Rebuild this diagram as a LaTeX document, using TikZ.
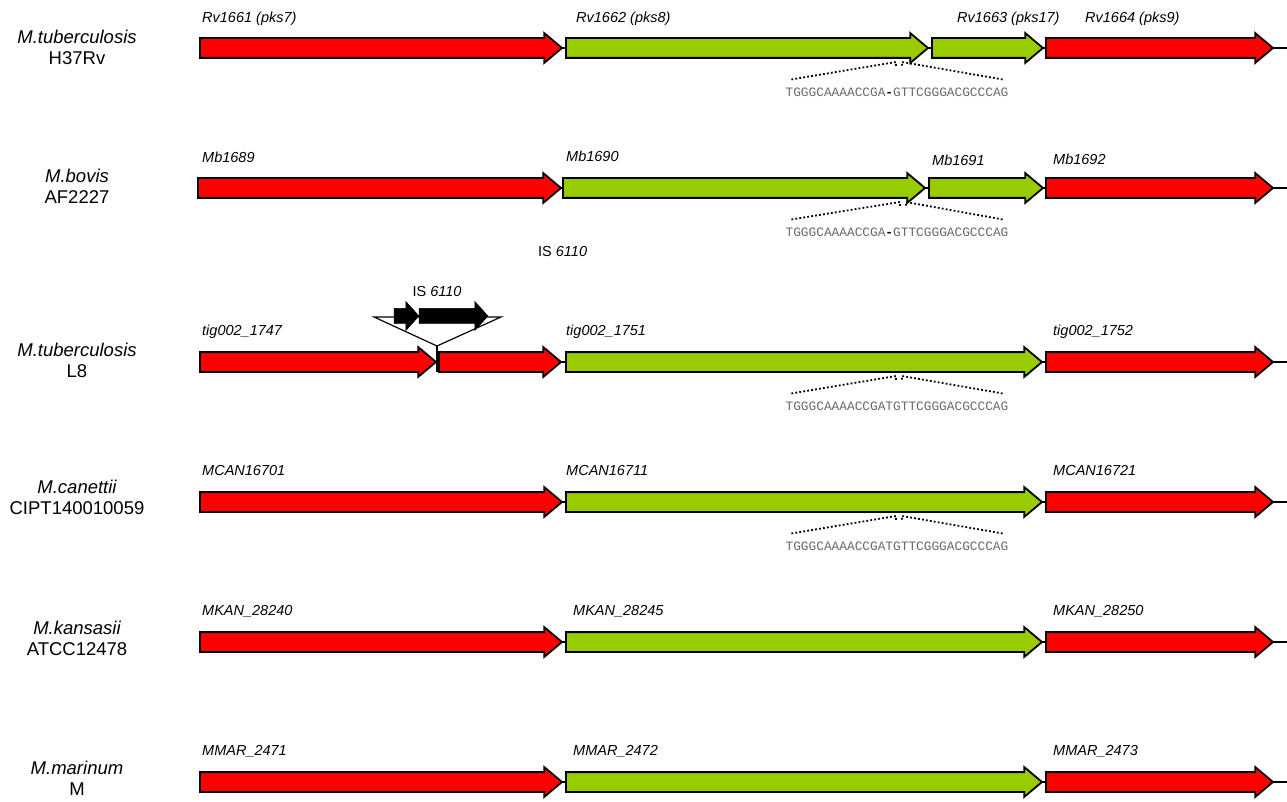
\documentclass[tikz,border=0pt]{standalone}
\usepackage{fontspec}
\setmainfont{Liberation Sans}
\newfontfamily\seqfont{Liberation Mono}
\usetikzlibrary{shapes.arrows,positioning}
\definecolor{genered}{RGB}{255,0,0}
\definecolor{genegreen}{RGB}{153,204,0}
\definecolor{seqgray}{RGB}{105,105,105}

\tikzset{
  gene/.style={single arrow, draw=black, line width=1.8pt, fill=#1, inner xsep=0pt, inner ysep=9pt,
    outer sep=0pt, minimum width=0pt, single arrow head extend=5pt, single arrow tip angle=80, anchor=tail},
  isgene/.style={single arrow, draw=black, fill=black, inner xsep=0pt, inner ysep=7.5pt,
    outer sep=0pt, minimum width=0pt, single arrow head extend=7pt, single arrow tip angle=96, anchor=tail},
  genelbl/.style={font=\fontsize{14.5}{16}\selectfont\itshape, anchor=base west, inner sep=0pt},
  species/.style={font=\fontsize{18.5}{21}\selectfont, align=center},
  seq/.style={font=\seqfont\fontsize{12.8}{14}\selectfont, text=seqgray, inner sep=0pt},
  seqdots/.style={line width=1.8pt, dash pattern=on 1.8pt off 2.2pt},
  backbone/.style={line width=1.8pt}
}

\begin{document}
\begin{tikzpicture}[x=1pt,y=-1pt]
\useasboundingbox (0,0) rectangle (1287,802);

% Species names
\node[species] (spA) at (77,47) {\itshape M.tuberculosis\\H37Rv};
\node[species] (spB) at (77,186) {\itshape M.bovis\\AF2227};
\node[species] (spC) at (77,360) {\itshape M.tuberculosis\\L8};
\node[species] (spD) at (77,497) {\itshape M.canettii\\CIPT140010059};
\node[species] (spE) at (77,638) {\itshape M.kansasii\\ATCC12478};
\node[species] (spF) at (77,778) {\itshape M.marinum\\M};

% Row A: H37Rv
\coordinate (startA) at (200,48);
\coordinate (endA) at (1287,48);
\draw[backbone] (startA) -- (endA);
\node[gene=genered, minimum height=362pt] (geneA1) at (startA) {};
\node[gene=genegreen, minimum height=362pt] (geneA2) at (566,48) {};
\node[gene=genegreen, minimum height=111pt] (geneA3) at (932,48) {};
\node[gene=genered, minimum height=227pt] (geneA4) at (1046,48) {};
\node[genelbl] (lblA1) at (202,23) {Rv1661 (pks7)};
\node[genelbl] (lblA2) at (576,23) {Rv1662 (pks8)};
\node[genelbl] (lblA3) at (957,23) {Rv1663 (pks17)};
\node[genelbl] (lblA4) at (1085,23) {Rv1664 (pks9)};
\coordinate (cutA) at (899,62);
\node[seq] (seqA) at (897,92) {TGGGCAAAACCGA{\color{black}\bfseries-}GTTCGGGACGCCCAG};
\draw[seqdots] ([shift={(6pt,8pt)}]seqA.north west) -- ([xshift=-3pt]cutA) -- ([shift={(-3pt,-5pt)}]cutA);
\draw[seqdots] ([shift={(-6pt,8pt)}]seqA.north east) -- ([xshift=3pt]cutA) -- ([shift={(3pt,-5pt)}]cutA);

% Row B: bovis
\coordinate (startB) at (198,188);
\coordinate (endB) at (1287,188);
\draw[backbone] (startB) -- (endB);
\node[gene=genered, minimum height=363pt] (geneB1) at (startB) {};
\node[gene=genegreen, minimum height=362pt] (geneB2) at (563,188) {};
\node[gene=genegreen, minimum height=114pt] (geneB3) at (929,188) {};
\node[gene=genered, minimum height=227pt] (geneB4) at (1046,188) {};
\node[genelbl] (lblB1) at (202,163) {Mb1689};
\node[genelbl] (lblB2) at (566,162) {Mb1690};
\node[genelbl] (lblB3) at (932,166) {Mb1691};
\node[genelbl] (lblB4) at (1053,165) {Mb1692};
\coordinate (cutB) at (903,202);
\node[seq] (seqB) at (897,232) {TGGGCAAAACCGA{\color{black}\bfseries-}GTTCGGGACGCCCAG};
\draw[seqdots] ([shift={(6pt,8pt)}]seqB.north west) -- ([xshift=-3pt]cutB) -- ([shift={(-3pt,-5pt)}]cutB);
\draw[seqdots] ([shift={(-6pt,8pt)}]seqB.north east) -- ([xshift=3pt]cutB) -- ([shift={(3pt,-5pt)}]cutB);
\node[genelbl, font=\fontsize{14.5}{16}\selectfont] (isB) at (538,257) {IS \textit{6110}};

% Row C: L8 with IS6110 insertion
\coordinate (startC) at (200,362);
\coordinate (endC) at (1287,362);
\draw[backbone] (startC) -- (endC);
\node[gene=genered, minimum height=236pt] (geneC1) at (startC) {};
\node[gene=genered, minimum height=122pt] (geneC2) at (439,362) {};
\node[gene=genegreen, minimum height=476pt] (geneC3) at (566,362) {};
\node[gene=genered, minimum height=227pt] (geneC4) at (1046,362) {};
\coordinate (insC) at (437,346);
\coordinate (insL) at (374,317);
\coordinate (insR) at (501,317);
\draw[line width=1.2pt, fill=white] (insL) -- (insR) -- (insC) -- cycle;
\draw[backbone] (insC) -- (437,372);
\node[isgene, minimum height=25pt] (isC1) at (394,316) {};
\node[isgene, minimum height=69pt] (isC2) at (419,316) {};
\node[genelbl, font=\fontsize{14.5}{16}\selectfont, anchor=base] (isC) at (437,296) {IS \textit{6110}};
\node[genelbl] (lblC1) at (202,335) {tig002\_1747};
\node[genelbl] (lblC2) at (566,335) {tig002\_1751};
\node[genelbl] (lblC3) at (1053,335) {tig002\_1752};
\coordinate (cutC) at (899,376);
\node[seq] (seqC) at (897,406) {TGGGCAAAACCGATGTTCGGGACGCCCAG};
\draw[seqdots] ([shift={(6pt,8pt)}]seqC.north west) -- ([xshift=-3pt]cutC) -- ([shift={(-3pt,-5pt)}]cutC);
\draw[seqdots] ([shift={(-6pt,8pt)}]seqC.north east) -- ([xshift=3pt]cutC) -- ([shift={(3pt,-5pt)}]cutC);

% Row D: canettii
\coordinate (startD) at (200,502);
\coordinate (endD) at (1287,502);
\draw[backbone] (startD) -- (endD);
\node[gene=genered, minimum height=362pt] (geneD1) at (startD) {};
\node[gene=genegreen, minimum height=476pt] (geneD2) at (566,502) {};
\node[gene=genered, minimum height=227pt] (geneD3) at (1046,502) {};
\node[genelbl] (lblD1) at (202,475) {MCAN16701};
\node[genelbl] (lblD2) at (566,475) {MCAN16711};
\node[genelbl] (lblD3) at (1053,475) {MCAN16721};
\coordinate (cutD) at (899,516);
\node[seq] (seqD) at (897,546) {TGGGCAAAACCGATGTTCGGGACGCCCAG};
\draw[seqdots] ([shift={(6pt,8pt)}]seqD.north west) -- ([xshift=-3pt]cutD) -- ([shift={(-3pt,-5pt)}]cutD);
\draw[seqdots] ([shift={(-6pt,8pt)}]seqD.north east) -- ([xshift=3pt]cutD) -- ([shift={(3pt,-5pt)}]cutD);

% Row E: kansasii
\coordinate (startE) at (200,642);
\coordinate (endE) at (1287,642);
\draw[backbone] (startE) -- (endE);
\node[gene=genered, minimum height=362pt] (geneE1) at (startE) {};
\node[gene=genegreen, minimum height=476pt] (geneE2) at (566,642) {};
\node[gene=genered, minimum height=227pt] (geneE3) at (1046,642) {};
\node[genelbl] (lblE1) at (202,615) {MKAN\_28240};
\node[genelbl] (lblE2) at (573,615) {MKAN\_28245};
\node[genelbl] (lblE3) at (1053,615) {MKAN\_28250};

% Row F: marinum
\coordinate (startF) at (200,782);
\coordinate (endF) at (1287,782);
\draw[backbone] (startF) -- (endF);
\node[gene=genered, minimum height=362pt] (geneF1) at (startF) {};
\node[gene=genegreen, minimum height=476pt] (geneF2) at (566,782) {};
\node[gene=genered, minimum height=227pt] (geneF3) at (1046,782) {};
\node[genelbl] (lblF1) at (202,755) {MMAR\_2471};
\node[genelbl] (lblF2) at (573,755) {MMAR\_2472};
\node[genelbl] (lblF3) at (1053,755) {MMAR\_2473};
\end{tikzpicture}
\end{document}
